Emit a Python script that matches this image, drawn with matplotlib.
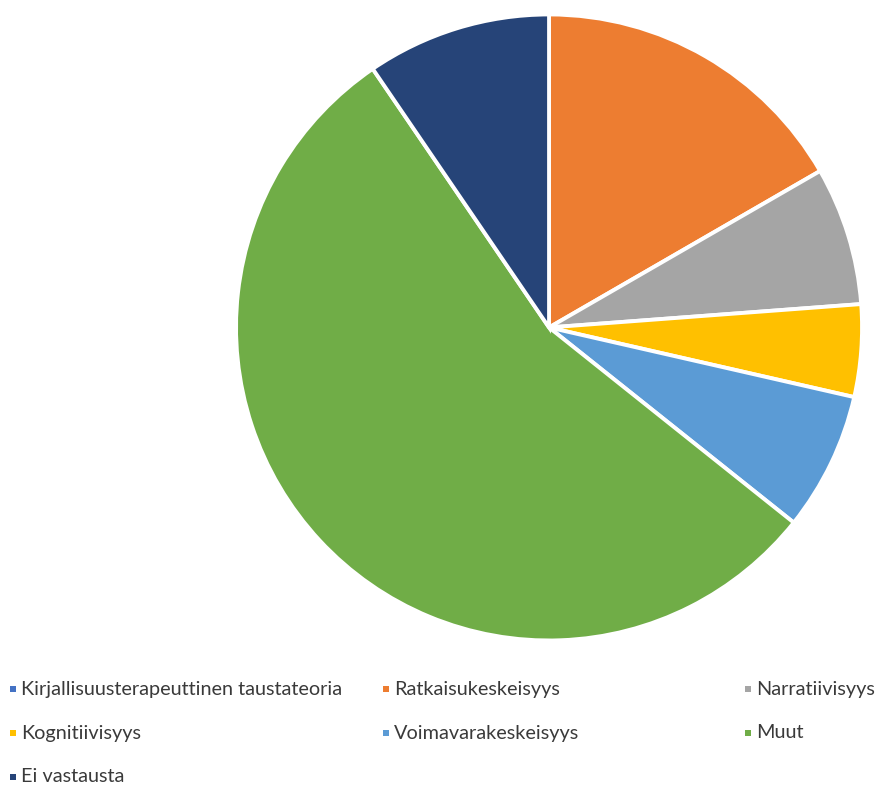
import matplotlib.pyplot as plt
from matplotlib.patches import Rectangle

# vastausten lukumäärät teoriataustan mukaan
labels = ["Kirjallisuusterapeuttinen taustateoria", "Ratkaisukeskeisyys", "Narratiivisyys",
          "Kognitiivisyys", "Voimavarakeskeisyys", "Muut", "Ei vastausta"]
counts = [0, 7, 3, 2, 3, 23, 4]
colors = ["#4472C4", "#ED7D31", "#A5A5A5", "#FFC000", "#5B9BD5", "#70AD47", "#264478"]

plt.rcParams['font.family'] = ['Lato', 'DejaVu Sans']

fig = plt.figure(figsize=(8.83, 7.85), dpi=100)
ax = fig.add_axes([0.2673, 0.1841, 0.709, 0.7975])
wedges, _ = ax.pie(counts, colors=colors, startangle=90, counterclock=False,
                   wedgeprops=dict(edgecolor='white', linewidth=2.8))
for w in wedges:
    w.set_clip_on(False)
ax.set_xlim(-1, 1)
ax.set_ylim(-1, 1)
ax.set_aspect('equal')

# selite kolmessa sarakkeessa, rivi kerrallaan
col_x = [10, 383, 745]
row_y = [689, 733, 777]
W, H = 883, 785
for i, (lab, c) in enumerate(zip(labels, colors)):
    x = col_x[i % 3]
    y = row_y[i // 3]
    fig.patches.append(Rectangle((x / W, 1 - (y + 3) / H), 6 / W, 6 / H,
                                 transform=fig.transFigure, facecolor=c, edgecolor='none'))
    fig.text((x + 11) / W, 1 - y / H, lab, fontsize=14.3, color='#3a3a3a',
             va='center', ha='left')

fig.savefig("out.png", dpi=100)
